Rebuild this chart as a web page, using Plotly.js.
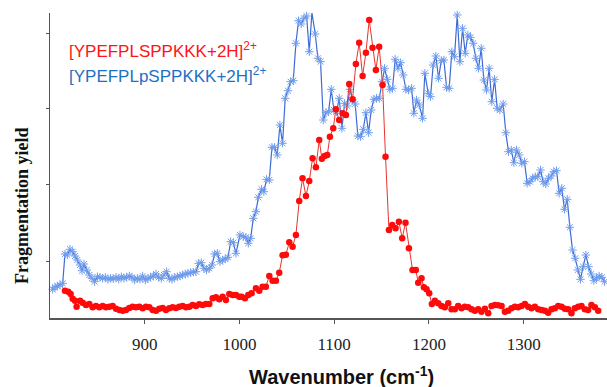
<!DOCTYPE html>
<html>
<head>
<meta charset="utf-8">
<script src="https://cdn.plot.ly/plotly-3.0.1.min.js"></script>
<style>html,body{margin:0;padding:0;background:#fff;}#chart{width:607px;height:387px;}</style>
</head>
<body>
<div id="chart"></div>
<script>
// Non-phosphorylated peptide [YPEFPLSPPKKK+2H]2+ (red)
const redWavenumber = [815.8, 819.3, 821.8, 823.9, 826.4, 828.1, 831.7, 834.5, 838, 841.5, 845, 848.5, 852.1, 855.6, 859.1, 862.6, 866.1, 869.7, 873.2, 876.7, 880.2, 883.7, 887.2, 890.8, 894.3, 897.8, 901.3, 904.8, 908.4, 911.9, 915.4, 918.9, 922.4, 925.9, 929.5, 933, 936.5, 940, 943.5, 947.1, 950.6, 954.1, 957.6, 961.1, 964.6, 968.2, 971.7, 975.2, 978.7, 982.2, 985.7, 989.3, 992.8, 996.3, 999.8,
  1002.3, 1005.8, 1009.3, 1012.8, 1017.4, 1020.9, 1024.4, 1027.9, 1031.5, 1035, 1038.5, 1042, 1045.5, 1049, 1052.6, 1056.1, 1059.6, 1063.1, 1066.6, 1070.2, 1073.7, 1077.2, 1080.7, 1084.2, 1087, 1089.9, 1092.7, 1095.5, 1099, 1101.8, 1105.3, 1108.9, 1112.4, 1115.9, 1119.4, 1122.9, 1126.4, 1130, 1133.5, 1137, 1140.5, 1144, 1147.5, 1151.1, 1154.2, 1157.8, 1161.3, 1164.8, 1168.3, 1171.8, 1175.3, 1178.9,
  1182.7, 1186.2, 1188.7, 1192.2, 1194.7, 1197.5, 1200.3, 1203.1, 1206.3, 1209.8, 1213.3, 1216.8, 1220.4, 1223.9, 1227.4, 1230.9, 1234.4, 1237.9, 1241.5, 1245, 1248.5, 1252, 1255.5, 1259.1, 1262.6, 1266.1, 1269.6, 1273.1, 1276.7, 1280.2, 1283.7, 1287.2, 1290.7, 1294.2, 1297.8, 1301.3, 1304.8, 1308.3, 1311.8, 1315.4, 1318.9, 1322.4, 1325.9, 1329.4, 1332.9, 1336.5, 1340, 1343.5, 1347, 1350.5, 1354, 1357.6, 1361.1, 1364.6, 1368.1, 1371.6, 1375.2, 1378.7];
const redYield = [27.3, 26.3, 24, 19.3, 17.3, 11.3, 17.3, 15.3, 13, 14, 10.7, 12, 10.7, 12, 10.7, 11.3, 12, 9.3, 8, 7.3, 8, 10, 11.3, 10.7, 11.3, 9.7, 11.3, 10.7, 8, 7.3, 9.3, 10, 8, 9.7, 10.7, 10, 11.3, 12, 10.7, 11.3, 13, 12, 13.7, 13, 14, 14, 19.7, 20.7, 18.7, 21.3, 18, 24, 23, 23, 21.3,
  21.3, 19.7, 23, 24.7, 29.7, 27.3, 31.3, 31.3, 42, 37.3, 37.3, 45.3, 62.7, 63.3, 75.7, 71.3, 83, 117, 139.7, 122, 137, 159.7, 150.7, 178, 159.3, 162, 163, 181.3, 189.7, 208.7, 198, 204.7, 203, 234, 218.7, 254, 275.3, 242, 265.3, 298, 270.3, 248, 271.3, 233, 161.3, 88, 93, 89.7, 96.3, 79.7, 95.3, 69.7,
  48, 48, 35.3, 39.7, 30.7, 28.7, 24.7, 14, 17.3, 14.7, 12, 10.7, 14.7, 8.7, 8.7, 12, 9.7, 11.3, 10.7, 8.7, 7.3, 8.7, 6.3, 9.3, 4.7, 12, 13, 12.7, 12, 6.3, 7.3, 9.7, 11.3, 10.7, 12, 14, 11.3, 9.7, 11.3, 8.7, 8, 7.3, 5.3, 8.7, 9.7, 12, 11.3, 9.3, 8.7, 4.7, 9.7, 11.3, 12, 8.7, 8, 13, 10.7, 7.3];

// Phosphorylated peptide [YPEFPLpSPPKKK+2H]2+ (blue)
const blueWavenumber = [802.8, 805.3, 807.7, 810.6, 813.4, 815.8, 818.3, 821.1, 823.9, 826.4, 828.8, 831.7, 833.8, 835.9, 838.7, 841.5, 844.3, 847.1, 850, 852.8, 855.6, 858.4, 861.2, 864, 866.8, 869.7, 872.5, 875.3, 878.1, 880.9, 883.7, 886.5, 889.4, 892.2, 895, 897.8, 900.6, 903.4, 906.2, 909.1, 911.9, 914.7, 917.5, 920.3, 923.1, 925.9, 928.8, 931.6, 934.4, 937.2, 940, 942.8, 945.6, 948.5, 951.3, 954.1, 956.9, 959.7, 962.5, 965.3, 968.2, 971, 973.8, 976.6, 979.4, 982.2, 985, 987.9, 990.7, 993.5, 996.3,
  1000.5, 1004, 1006.8, 1009.3, 1011.8, 1014.6, 1017.4, 1019.9, 1023.4, 1025.8, 1028.6, 1031.5, 1034.3, 1037.1, 1039.9, 1042.7, 1045.5, 1048.3, 1051.2, 1054, 1056.8, 1059.6, 1062.4, 1065.2, 1068, 1070.9, 1073.7, 1076.5, 1080, 1082.8, 1085.6, 1088.5, 1091.3, 1094.1, 1096.9, 1099.7, 1102.5, 1105.3, 1108.2, 1111, 1113.8, 1116.6, 1119.4, 1122.2, 1125, 1127.9, 1130.7, 1133.5, 1136.3, 1139.1, 1141.9, 1144.7, 1147.6, 1150.4, 1153.2, 1156, 1158.8, 1161.6, 1164.4, 1167.3, 1170.1, 1172.9, 1175.7, 1178.5,
  1181.7, 1184.1, 1186.9, 1189.8, 1193.3, 1195.7, 1199.3, 1201.7, 1204.5, 1207.3, 1210.2, 1213, 1215.8, 1218.6, 1221.4, 1224.2, 1227, 1229.9, 1232.7, 1235.5, 1238.3, 1241.1, 1243.9, 1246.7, 1249.6, 1252.4, 1255.2, 1258, 1260.8, 1263.6, 1266.4, 1269.3, 1272.1, 1274.9, 1278.4, 1281.2, 1284, 1286.9, 1289.7, 1292.5, 1295.3, 1298.1, 1300.9, 1303.7, 1306.6, 1309.4, 1312.2, 1315, 1317.8, 1320.6, 1323.4, 1326.3, 1329.1, 1331.9, 1334.7, 1337.5, 1340.3, 1343.1, 1346, 1348.8, 1351.6, 1354.4, 1357.2, 1360, 1362.8, 1365.7, 1368.5, 1371.3, 1374.1, 1376.9, 1379.7, 1382.6, 1385.4];
const blueYield = [28.7, 30.7, 32, 33, 34.7, 64, 63, 68.7, 66.3, 62, 58, 53, 47.3, 54, 48, 43, 39.7, 36.3, 41.3, 40.7, 39.7, 40.7, 38.7, 39.7, 39.3, 40.7, 38.7, 41.3, 39.7, 40.7, 42, 40.7, 38, 39.7, 38.7, 42, 38, 39.7, 40.7, 42, 44, 40.7, 39.7, 43, 46.3, 39.7, 38.7, 40.7, 41.3, 42, 43, 44, 44.7, 45.3, 46, 46.3, 54.7, 55.3, 49.7, 48, 49.7, 53, 64, 64.7, 56.3, 58, 59, 60.7, 76.3, 75.3, 64.7,
  83, 81.3, 80.7, 74.7, 79.7, 99.7, 106.3, 120.7, 128.7, 126.3, 138.7, 138, 170.7, 170.7, 163, 193, 174.7, 219.7, 227.3, 236.3, 237.3, 274.7, 297.3, 294, 299.7, 302, 266.3, 305.3, 284, 259.7, 256.3, 198, 205.3, 206.3, 228.7, 208, 206.3, 219.7, 189.7, 214.7, 212, 228.7, 218, 214, 182, 181.3, 188.7, 205.3, 185.3, 208, 218.7, 219.7, 219.7, 236.3, 249.7, 238.7, 228.7, 229.7, 258.7, 249.7, 255.3, 243, 228.7, 228,
  229.7, 204.7, 218, 213, 199.7, 244.7, 224.7, 221.3, 253, 262, 239.7, 257.3, 258, 230.7, 229.7, 266.3, 261.3, 303, 256.3, 289.7, 264.7, 283, 280.7, 274.7, 259.7, 249.7, 269.7, 238, 228, 249.7, 216.3, 238.7, 209.7, 208, 214, 185.3, 166.3, 168, 155.3, 168, 163, 154.7, 156.3, 134.7, 136.3, 139.7, 141.3, 141.3, 148, 136.3, 134, 139.7, 142, 146.3, 147.3, 124.7, 129.7, 108.7, 118.7, 90.7, 68, 59.7, 48, 38.7, 51.3, 63, 51.3, 44, 37.3, 39.7, 42, 40.7, 36.3];

const xTickValues = [900, 1000, 1100, 1200, 1300];
const xTickLabels = ['900', '1000', '1100', '1200', '1300'];
const yTickValues = [57, 134, 210, 285];

const traces = [
  {
    x: blueWavenumber, y: blueYield, type: 'scatter', mode: 'lines+markers',
    name: '[YPEFPLpSPPKKK+2H]2+',
    line: {color: '#3d6bd6', width: 1.2},
    marker: {symbol: 'asterisk-open', size: 7, color: '#6f9cec', line: {color: '#6f9cec', width: 1}},
    cliponaxis: false
  },
  {
    x: redWavenumber, y: redYield, type: 'scatter', mode: 'lines+markers',
    name: '[YPEFPLSPPKKK+2H]2+',
    line: {color: '#e8332f', width: 1},
    marker: {symbol: 'circle', size: 6.5, color: '#ff0a0a'},
    cliponaxis: false
  }
];

const layout = {
  width: 607, height: 387,
  margin: {l: 50, r: 0, t: 13, b: 69, pad: 0},
  paper_bgcolor: '#ffffff', plot_bgcolor: '#ffffff',
  showlegend: false,
  xaxis: {
    range: [800, 1388], showgrid: false, zeroline: false,
    showline: true, linecolor: '#555555', linewidth: 1.5,
    ticks: 'outside', ticklen: 4, tickwidth: 1, tickcolor: '#555555',
    tickvals: xTickValues, ticktext: xTickLabels, ticklabelstandoff: 6,
    tickfont: {family: 'Liberation Serif, Times New Roman, serif', size: 17, color: '#222222'}
  },
  yaxis: {
    range: [0, 305], showgrid: false, zeroline: false,
    showline: true, linecolor: '#555555', linewidth: 1.5,
    ticks: 'outside', ticklen: 3, tickwidth: 1, tickcolor: '#555555',
    tickvals: yTickValues, showticklabels: false
  },
  annotations: [
    {xref: 'paper', yref: 'paper', x: 0.0305, y: 0.879, xanchor: 'left', yanchor: 'middle', showarrow: false,
     text: '[YPEFPLSPPKKK+2H]<sup>2+</sup>',
     font: {family: 'Liberation Sans, Arial, sans-serif', size: 17, color: '#ff1414'}},
    {xref: 'paper', yref: 'paper', x: 0.0305, y: 0.797, xanchor: 'left', yanchor: 'middle', showarrow: false,
     text: '[YPEFPLpSPPKKK+2H]<sup>2+</sup>',
     font: {family: 'Liberation Sans, Arial, sans-serif', size: 17, color: '#1f6fc6'}},
    {xref: 'paper', yref: 'paper', x: 0.5225, y: -0.187, xanchor: 'center', yanchor: 'middle', showarrow: false,
     text: '<b>Wavenumber (cm<sup>-1</sup>)</b>',
     font: {family: 'Liberation Sans, Arial, sans-serif', size: 20, color: '#111111'}},
    {xref: 'paper', yref: 'paper', x: -0.0503, y: 0.367, xanchor: 'center', yanchor: 'middle', showarrow: false,
     textangle: -90,
     text: '<b>Fragmentation yield</b>',
     font: {family: 'Liberation Serif, Times New Roman, serif', size: 18, color: '#111111'}}
  ]
};

Plotly.newPlot('chart', traces, layout, {displayModeBar: false, staticPlot: true});
</script>
</body>
</html>
